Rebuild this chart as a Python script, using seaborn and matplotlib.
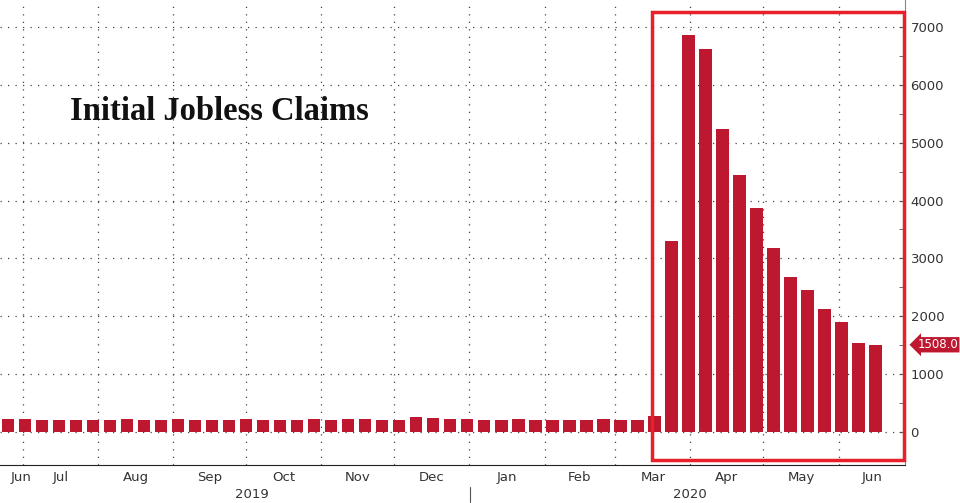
import numpy as np
import pandas as pd
import matplotlib
matplotlib.use('Agg')
import matplotlib.pyplot as plt
import matplotlib.patches as mpatches
import seaborn as sns

# weekly initial jobless claims (thousands), week of 2019-06-22 .. 2020-06-13
claims = [227, 221, 209, 216, 206, 215, 207, 220, 209, 215, 217, 204, 208,
          213, 219, 210, 214, 212, 218, 211, 225, 227, 213, 203, 252, 234,
          222, 220, 214, 204, 223, 216, 202, 205, 210, 219, 216, 211, 282,
          3307, 6867, 6615, 5237, 4442, 3867, 3176, 2687, 2446, 2126, 1897,
          1542, 1508]
month_names = ['Jun', 'Jul', 'Aug', 'Sep', 'Oct', 'Nov', 'Dec',
               'Jan', 'Feb', 'Mar', 'Apr', 'May', 'Jun']
last_label = '1508.0'

sns.set_style('white')
red = '#BE1830'

# positions in week units from a reference date
ref = pd.Timestamp('2019-06-25')
def wk(d):
    return (pd.Timestamp(d) - ref).days / 7.0

df = pd.DataFrame({'i': np.arange(len(claims)), 'claims': claims})

fig = plt.figure(figsize=(9.6, 5.03), dpi=100)
ax = fig.add_axes([0, 38 / 503, 905 / 960, 465 / 503])
sns.barplot(data=df, x='i', y='claims', native_scale=True, color=red,
            saturation=1, width=0.76, linewidth=0, ax=ax)

xmin, xmax = -0.47, 52.76
ax.set_xlim(xmin, xmax)
ax.set_ylim(-570, 7466)

# month boundaries and month label centres
bounds = pd.date_range('2019-07-01', '2020-06-01', freq='MS')
bpos = [wk(b) for b in bounds]
edges = [xmin] + bpos + [xmax]
centres = [(edges[k] + edges[k + 1]) / 2 for k in range(len(edges) - 1)]
centres[0] = bpos[0] - 0.1

ax.set_xticks(bpos)
ax.set_xticklabels([])
ax.set_xticks(centres, minor=True)
ax.set_xticklabels(month_names, minor=True, fontsize=9.5, color='#333333')
ax.tick_params(axis='x', which='major', length=6, direction='out', color='#222222')
ax.tick_params(axis='x', which='minor', length=0, pad=4)
for b in bpos:
    ax.axvline(b, color='#444444', linestyle=(0, (1, 5)), linewidth=0.9, zorder=0)

ax.yaxis.tick_right()
ax.set_yticks(np.arange(0, 7001, 1000))
ax.set_yticks(np.arange(-500, 7001, 500), minor=True)
ax.tick_params(axis='y', which='both', direction='in', length=4, labelsize=9.5,
               labelcolor='#333333', color='#555555', pad=4)
for v in range(0, 7001, 1000):
    ax.axhline(v, color='#444444', linestyle=(0, (1, 5)), linewidth=0.9, zorder=0)

ax.set_xlabel('')
ax.set_ylabel('')
for s in ['top', 'left']:
    ax.spines[s].set_visible(False)
ax.spines['bottom'].set_color('#222222')
ax.spines['right'].set_color('#888888')

# year labels and separator
fig.text(252 / 960, 1 - 495 / 503, '2019', ha='center', va='center', fontsize=9.5, color='#333333')
fig.text(690 / 960, 1 - 495 / 503, '2020', ha='center', va='center', fontsize=9.5, color='#333333')
fig.add_artist(plt.Line2D([470 / 960, 470 / 960], [1 - 502 / 503, 1 - 487 / 503],
                          color='#555555', linewidth=0.8))

# title
fig.text(70 / 960, 1 - 112 / 503, 'Initial Jobless Claims', fontsize=23.5,
         fontweight='bold', family='Liberation Serif', va='center', color='#111111')

# highlight rectangle
fig.add_artist(mpatches.Rectangle((652 / 960, 1 - 460 / 503), 252 / 960, 448 / 503,
                                  fill=False, edgecolor='#E8202A', linewidth=2.5))

# last value label
ax.annotate(last_label, xy=(1.0, claims[-1]), xycoords=('axes fraction', 'data'),
            xytext=(9, 0), textcoords='offset points', va='center', ha='left',
            fontsize=8.5, color='white', annotation_clip=False,
            bbox=dict(boxstyle='larrow,pad=0.1', fc=red, ec='none'))

fig.savefig('out.png', dpi=100)
